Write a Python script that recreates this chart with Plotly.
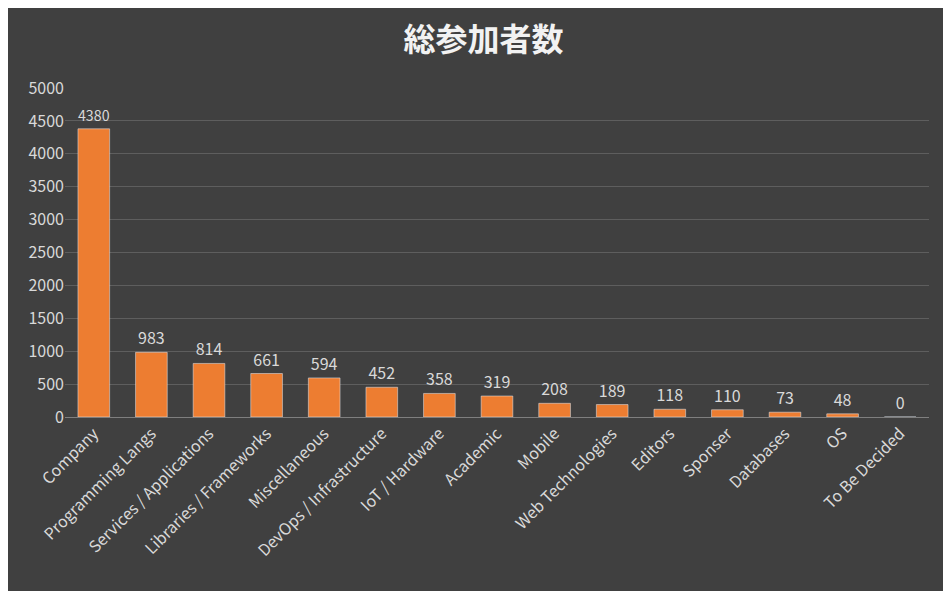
import plotly.graph_objects as go

categories = ["Company", "Programming Langs", "Services / Applications", "Libraries / Frameworks",
              "Miscellaneous", "DevOps / Infrastructure", "IoT / Hardware", "Academic", "Mobile",
              "Web Technologies", "Editors", "Sponser", "Databases", "OS", "To Be Decided"]
values = [4380, 983, 814, 661, 594, 452, 358, 319, 208, 189, 118, 110, 73, 48, 0]

fig = go.Figure(go.Bar(
    x=categories, y=values,
    marker_color="#ED7D31",
    text=values, textposition="outside",
    textfont=dict(color="#d9d9d9", size=16),
    cliponaxis=False,
))

fig.update_layout(
    width=951, height=591,
    paper_bgcolor="#404040", plot_bgcolor="#404040",
    font=dict(family="Noto Sans CJK JP, Noto Sans, sans-serif", color="#d9d9d9"),
    title=dict(text="<b>総参加者数</b>", x=0.5, y=0.965, xanchor="center", yanchor="top",
               font=dict(size=32, color="#f2f2f2")),
    margin=dict(l=57, r=30, t=80, b=182),
    bargap=0.45,
    showlegend=False,
)
fig.update_yaxes(range=[0, 5000], dtick=500, gridcolor="#5e5e5e", zeroline=False,
                 tickfont=dict(size=16, color="#d9d9d9"), ticks="", showline=False)
fig.update_xaxes(tickangle=-45, tickfont=dict(size=16, color="#d9d9d9"),
                 showline=True, linecolor="#7f7f7f")

fig.write_html("out.html")
